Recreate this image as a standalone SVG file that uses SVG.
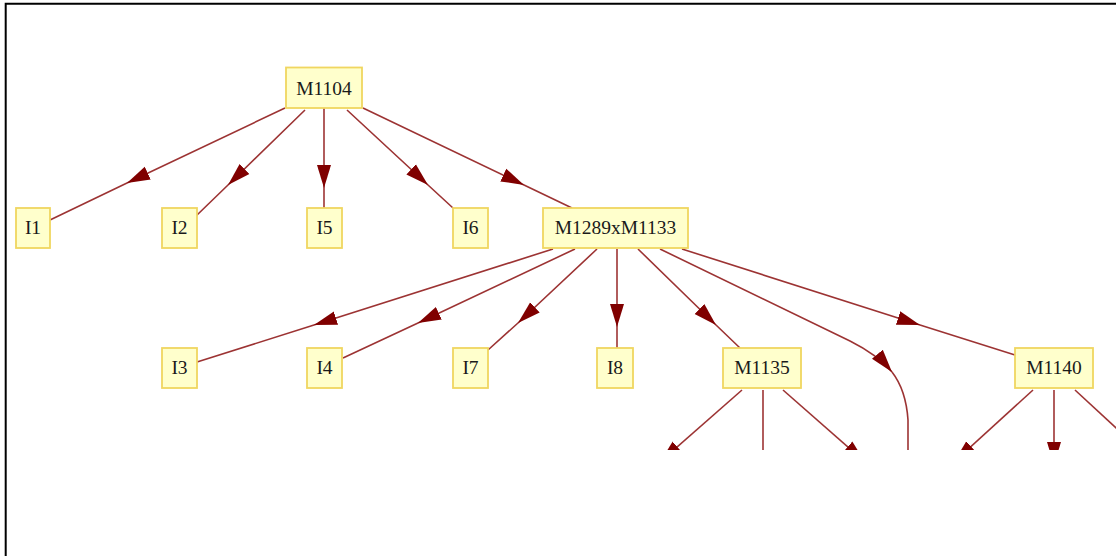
<svg xmlns="http://www.w3.org/2000/svg" width="1116" height="556" viewBox="0 0 1116 556">
<defs>
<style>
.node rect{fill:#ffffcc;stroke:#f0d660;stroke-width:1.8}
.node text{font-family:"Liberation Serif","Times New Roman",serif;font-size:19.5px;fill:#1a1a1a;text-anchor:middle}
.e{fill:none;stroke:#8b0f0f;stroke-width:1.6;stroke-opacity:0.85}
.m{marker-mid:url(#a)}
.me{marker-end:url(#a)}
</style>
<marker id="a" markerWidth="26" markerHeight="16" refX="23" refY="8" orient="auto" markerUnits="userSpaceOnUse">
<path d="M0,1 L23,8 L0,15 Z" fill="#800000"/>
</marker>
<clipPath id="clip"><rect x="0" y="0" width="1116" height="450"/></clipPath>
</defs>
<rect x="0" y="0" width="1116" height="556" fill="#fff"/>
<path d="M5.7,556 V3.7 H1116" fill="none" stroke="#000" stroke-width="2"/>
<g clip-path="url(#clip)">
<g id="connectors">
<path class="e m" d="M285,108 L127,183 L50,220"/>
<path class="e m" d="M305,110 L228,185 L196,216"/>
<path class="e m" d="M324,108 L324,188 L324,208"/>
<path class="e m" d="M347,110 L428,185 L453,208"/>
<path class="e m" d="M363,108 L524,185 L572,208"/>
<path class="e m" d="M553,249 L314,325 L197,362"/>
<path class="e m" d="M575,249 L418,323 L343,358"/>
<path class="e m" d="M597,249 L518,323 L488,350"/>
<path class="e m" d="M617,249 L617,327 L617,348"/>
<path class="e m" d="M638,249 L716,325 L740,348"/>
<path class="e me" d="M660,249 L850,341 Q878,355 892,372"/>
<path class="e" d="M892,372 Q906,390 908,420 L908,470"/>
<path class="e m" d="M682,249 L920,325 L1015,355"/>
<path class="e me" d="M742,390 L660,462"/>
<path class="e" d="M763,390 L763,470"/>
<path class="e me" d="M783,390 L865,462"/>
<path class="e me" d="M1033,390 L954,462"/>
<path class="e me" d="M1054,390 L1054,465"/>
<path class="e" d="M1075,390 L1140,450"/>
</g>
</g>
<g id="M1104" class="node"><rect x="286" y="67.5" width="76" height="40.5"/><text x="324" y="95">M1104</text></g>
<g id="I1" class="node"><rect x="16" y="208" width="34" height="40"/><text x="33" y="234">I1</text></g>
<g id="I2" class="node"><rect x="162" y="208" width="35" height="40"/><text x="179.5" y="234">I2</text></g>
<g id="I5" class="node"><rect x="307" y="208" width="35" height="40"/><text x="324.5" y="234">I5</text></g>
<g id="I6" class="node"><rect x="453" y="208" width="35" height="40"/><text x="470.5" y="234">I6</text></g>
<g id="M1289xM1133" class="node"><rect x="543" y="208" width="145" height="40"/><text x="615.5" y="234">M1289xM1133</text></g>
<g id="I3" class="node"><rect x="162" y="348" width="35" height="40"/><text x="179.5" y="374">I3</text></g>
<g id="I4" class="node"><rect x="307" y="348" width="35" height="40"/><text x="324.5" y="374">I4</text></g>
<g id="I7" class="node"><rect x="453" y="348" width="35" height="40"/><text x="470.5" y="374">I7</text></g>
<g id="I8" class="node"><rect x="597" y="348" width="36" height="40"/><text x="615" y="374">I8</text></g>
<g id="M1135" class="node"><rect x="723" y="348" width="78" height="40"/><text x="762" y="374">M1135</text></g>
<g id="M1140" class="node"><rect x="1015" y="348" width="78" height="40"/><text x="1054" y="374">M1140</text></g>
</svg>
